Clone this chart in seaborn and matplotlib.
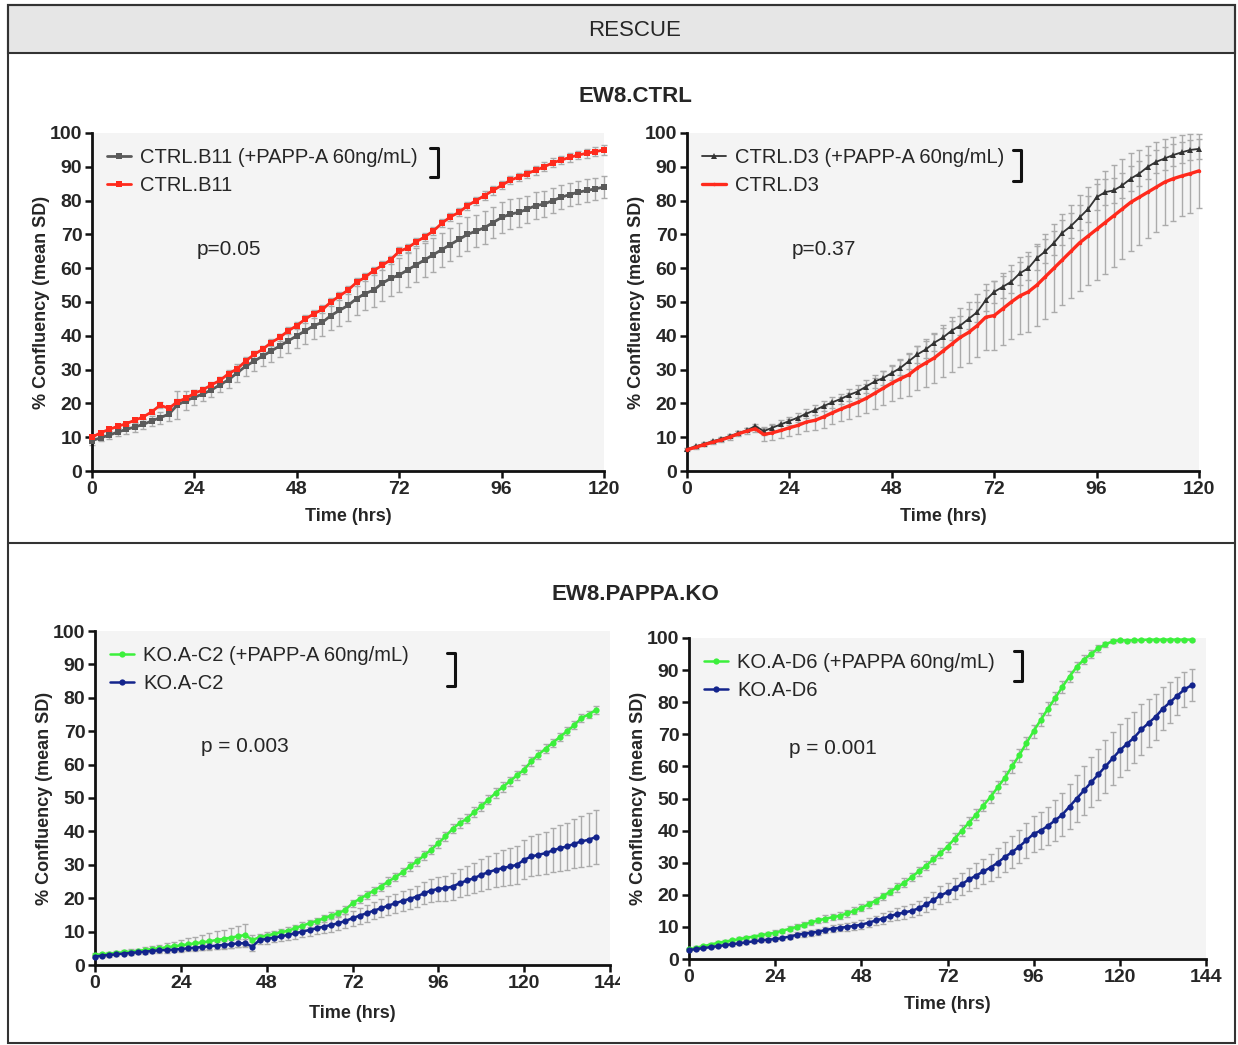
import matplotlib
matplotlib.use("Agg")
import matplotlib.pyplot as plt
import seaborn as sns
from matplotlib.patches import Rectangle
from matplotlib.lines import Line2D
from matplotlib.transforms import Bbox

# time points (hrs)
hrs_ctrl = list(range(0, 121, 2))
hrs_ko = list(range(0, 141, 2))

# ---- EW8.CTRL / B11 ----
b11_papp = [9.0, 9.8, 10.6, 11.5, 12.3, 13.0, 13.8, 14.8, 15.8, 16.8,
            19.5, 20.8, 21.8, 22.8, 24.0, 25.5, 27.0, 29.0, 31.0, 32.5,
            34.0, 35.5, 37.0, 38.5, 40.0, 41.5, 43.0, 44.0, 46.0, 47.5,
            49.0, 51.0, 52.5, 53.5, 55.5, 57.0, 58.0, 59.5, 61.0, 62.5,
            64.0, 65.5, 67.0, 68.5, 70.0, 71.0, 72.0, 73.5, 75.0, 76.0,
            76.5, 77.5, 78.5, 79.0, 80.0, 81.0, 81.8, 82.5, 83.0, 83.5,
            84.0]
b11_papp_sd = [1.2, 1.0, 1.0, 1.2, 1.3, 1.4, 1.5, 1.6, 1.8, 2.0,
               4.2, 2.8, 2.2, 2.0, 2.0, 2.2, 2.4, 2.6, 2.8, 3.0,
               3.0, 3.2, 3.4, 3.5, 3.6, 3.8, 4.0, 4.2, 4.4, 4.5,
               4.6, 4.8, 5.0, 5.0, 5.2, 5.2, 5.0, 5.0, 5.0, 5.0,
               5.0, 5.0, 5.0, 5.0, 5.0, 4.8, 4.8, 4.6, 4.5, 4.4,
               4.2, 4.0, 4.0, 3.8, 3.8, 3.6, 3.5, 3.4, 3.3, 3.2,
               3.2]
b11 = [10.0, 11.3, 12.3, 13.2, 14.0, 15.0, 16.0, 17.5, 19.5, 18.5,
       20.5, 21.5, 23.0, 24.0, 25.5, 26.8, 28.8, 30.2, 32.5, 34.5,
       36.0, 38.0, 39.5, 41.5, 43.0, 45.0, 46.5, 47.8, 50.0, 51.8,
       53.5, 55.8, 57.3, 59.3, 60.8, 62.5, 65.0, 66.0, 67.8, 69.3,
       71.0, 73.3, 75.2, 76.5, 78.5, 80.0, 81.5, 83.0, 84.5, 86.0,
       87.0, 88.0, 89.0, 90.0, 91.2, 92.0, 92.8, 93.5, 94.0, 94.5,
       95.0]
b11_sd = [0.6, 0.6, 0.6, 0.6, 0.6, 0.7, 0.7, 0.7, 0.8, 0.8,
          0.8, 0.8, 0.9, 0.9, 0.9, 1.0, 1.0, 1.0, 1.0, 1.0,
          1.0, 1.0, 1.1, 1.1, 1.1, 1.2, 1.2, 1.2, 1.2, 1.2,
          1.2, 1.2, 1.2, 1.2, 1.2, 1.2, 1.2, 1.2, 1.2, 1.2,
          1.2, 1.2, 1.2, 1.2, 1.2, 1.2, 1.2, 1.2, 1.2, 1.2,
          1.2, 1.2, 1.3, 1.3, 1.3, 1.3, 1.3, 1.3, 1.3, 1.3,
          1.4]

# ---- EW8.CTRL / D3 ----
d3_papp = [6.5, 7.3, 8.0, 8.8, 9.5, 10.3, 11.2, 12.0, 13.3, 11.8,
           12.8, 13.8, 14.8, 15.8, 17.0, 18.0, 19.2, 20.3, 21.3, 22.5,
           23.5, 25.0, 26.5, 27.5, 29.0, 30.5, 32.5, 34.5, 36.0, 38.0,
           39.5, 41.5, 43.0, 45.0, 47.0, 50.5, 53.0, 54.5, 56.0, 58.5,
           60.0, 63.0, 65.0, 67.5, 70.5, 72.5, 75.0, 77.5, 81.0, 82.5,
           83.0, 84.5, 86.5, 88.0, 90.0, 91.5, 92.5, 93.5, 94.3, 95.0,
           95.3]
d3_papp_sd = [0.4, 0.4, 0.5, 0.5, 0.5, 0.6, 0.6, 0.6, 0.7, 1.2,
              1.2, 1.3, 1.3, 1.4, 1.4, 1.5, 1.5, 1.6, 1.6, 1.7,
              1.8, 1.9, 2.0, 2.0, 2.1, 2.2, 2.3, 2.4, 2.5, 2.6,
              2.7, 2.8, 2.9, 3.0, 3.0, 3.1, 3.2, 3.3, 3.3, 3.4,
              3.5, 3.5, 3.6, 3.6, 3.7, 3.7, 3.8, 3.8, 3.9, 3.9,
              3.8, 3.8, 3.7, 3.6, 3.5, 3.4, 3.3, 3.2, 3.1, 3.0,
              3.0]
d3 = [6.3, 7.0, 7.8, 8.5, 9.2, 10.0, 11.0, 11.8, 12.5, 10.8,
      11.3, 12.0, 12.8, 13.5, 14.5, 15.0, 16.0, 17.2, 18.3, 19.3,
      20.3, 21.5, 23.0, 24.5, 26.0, 27.3, 28.5, 30.5, 32.0, 33.5,
      35.5, 37.5, 39.5, 41.0, 43.0, 45.5, 46.0, 48.0, 50.0, 51.8,
      53.0, 55.0, 57.5, 60.0, 62.5, 65.0, 67.5, 69.5, 71.5, 73.5,
      75.5, 77.5, 79.5, 81.0, 82.5, 84.0, 85.5, 86.5, 87.3, 88.0,
      88.8]
d3_sd = [0.5, 0.5, 0.5, 0.6, 0.6, 0.7, 0.7, 0.8, 0.9, 2.0,
         2.2, 2.3, 2.5, 2.6, 2.8, 3.0, 3.2, 3.4, 3.6, 3.8,
         4.0, 4.3, 4.6, 5.0, 5.4, 5.8, 6.2, 6.6, 7.0, 7.4,
         7.8, 8.2, 8.6, 9.0, 9.4, 9.8, 10.2, 10.6, 11.0, 11.4,
         11.8, 12.2, 12.6, 13.0, 13.4, 13.8, 14.2, 14.6, 15.0, 15.2,
         15.0, 14.8, 14.5, 14.0, 13.6, 13.2, 12.8, 12.4, 12.0, 11.6,
         11.0]

# ---- EW8.PAPPA.KO / C2 ----
c2_papp = [3.0, 3.2, 3.4, 3.6, 3.8, 4.0, 4.2, 4.5, 4.8, 5.0,
           5.3, 5.6, 5.9, 6.2, 6.5, 6.8, 7.1, 7.5, 7.8, 8.2,
           8.6, 9.0, 7.5, 8.3, 8.8, 9.3, 9.8, 10.3, 11.0, 11.8,
           12.5, 13.2, 14.0, 14.8, 15.5, 16.5, 18.5, 19.8, 21.0, 22.3,
           23.5, 25.0, 26.3, 27.8, 29.5, 31.0, 32.8, 34.5, 36.5, 38.5,
           40.8, 42.5, 43.8, 45.8, 47.5, 49.5, 51.5, 53.3, 55.0, 56.8,
           58.5, 61.0, 63.0, 64.8, 66.5, 68.3, 70.0, 71.8, 74.0, 75.0,
           76.3]
c2_papp_sd = [0.5, 0.5, 0.5, 0.6, 0.6, 0.7, 0.7, 0.8, 0.9, 1.0,
              1.2, 1.4, 1.6, 1.8, 2.0, 2.2, 2.4, 2.6, 2.8, 3.0,
              3.2, 3.2, 1.5, 1.0, 1.0, 1.0, 1.0, 1.0, 1.0, 1.0,
              1.0, 1.0, 1.0, 1.0, 1.0, 1.1, 1.1, 1.1, 1.1, 1.2,
              1.2, 1.2, 1.2, 1.3, 1.3, 1.3, 1.3, 1.4, 1.4, 1.4,
              1.4, 1.4, 1.4, 1.4, 1.4, 1.4, 1.4, 1.4, 1.4, 1.4,
              1.4, 1.4, 1.4, 1.3, 1.3, 1.3, 1.2, 1.2, 1.2, 1.1,
              1.1]
c2 = [2.5, 2.8, 3.0, 3.2, 3.4, 3.6, 3.8, 4.0, 4.2, 4.4,
      4.5, 4.6, 4.8, 5.0, 5.2, 5.4, 5.6, 5.8, 6.0, 6.2,
      6.5, 6.5, 5.5, 7.5, 7.8, 8.2, 8.6, 9.0, 9.5, 10.0,
      10.5, 11.0, 11.5, 12.0, 12.5, 13.2, 14.0, 14.8, 15.5, 16.3,
      17.0, 17.8, 18.5, 19.2, 19.8, 20.5, 21.5, 22.3, 22.8, 23.0,
      23.5, 24.5, 25.3, 26.0, 27.0, 27.8, 28.5, 29.0, 29.5, 30.0,
      31.5, 32.5, 33.0, 33.5, 34.3, 35.0, 35.5, 36.3, 37.0, 37.5,
      38.3]
c2_sd = [0.5, 0.5, 0.5, 0.5, 0.5, 0.6, 0.6, 0.6, 0.7, 0.7,
         0.8, 0.8, 0.9, 0.9, 1.0, 1.0, 1.0, 1.1, 1.1, 1.2,
         1.2, 1.2, 1.3, 1.3, 1.4, 1.4, 1.5, 1.5, 1.6, 1.6,
         1.7, 1.8, 1.9, 2.0, 2.1, 2.2, 2.3, 2.4, 2.5, 2.6,
         2.7, 2.8, 2.9, 3.0, 3.1, 3.2, 3.3, 3.4, 3.5, 3.7,
         3.9, 4.1, 4.3, 4.5, 4.7, 4.9, 5.1, 5.3, 5.5, 5.6,
         5.8, 6.0, 6.2, 6.4, 6.6, 6.8, 7.0, 7.3, 7.6, 7.9,
         8.2]

# ---- EW8.PAPPA.KO / D6 ----
d6_papp = [3.0, 3.5, 4.0, 4.5, 5.0, 5.4, 5.8, 6.2, 6.6, 7.0,
           7.4, 7.8, 8.2, 8.8, 9.4, 10.0, 10.7, 11.4, 12.0, 12.6,
           13.0, 13.5, 14.2, 15.0, 16.0, 17.0, 18.2, 19.5, 21.0, 22.3,
           23.8, 25.5, 27.3, 29.0, 31.0, 33.0, 35.0, 37.5, 40.0, 42.5,
           45.0, 47.8, 50.5, 53.5, 56.5, 60.0, 63.5, 67.3, 71.0, 74.5,
           78.0, 81.3, 84.8, 88.0, 91.0, 93.3, 95.0, 96.8, 98.0, 99.0,
           99.3, 99.2, 99.3, 99.4, 99.5, 99.5, 99.5, 99.5, 99.5, 99.5,
           99.5]
d6_papp_sd = [0.4, 0.4, 0.4, 0.4, 0.5, 0.5, 0.5, 0.5, 0.6, 0.6,
              0.6, 0.7, 0.7, 0.7, 0.8, 0.8, 0.8, 0.9, 0.9, 1.0,
              1.0, 1.0, 1.0, 1.1, 1.1, 1.1, 1.2, 1.2, 1.2, 1.3,
              1.3, 1.3, 1.4, 1.4, 1.5, 1.5, 1.6, 1.6, 1.7, 1.7,
              1.8, 1.8, 1.9, 1.9, 2.0, 2.0, 2.0, 2.0, 2.0, 2.0,
              2.0, 1.9, 1.8, 1.7, 1.6, 1.5, 1.3, 1.1, 0.9, 0.7,
              0.5, 0.4, 0.4, 0.3, 0.3, 0.3, 0.3, 0.3, 0.3, 0.3,
              0.3]
d6 = [2.8, 3.1, 3.4, 3.7, 4.0, 4.3, 4.6, 4.9, 5.2, 5.5,
      5.8, 6.0, 6.2, 6.5, 7.0, 7.5, 7.9, 8.2, 8.5, 9.0,
      9.5, 9.7, 10.0, 10.3, 10.7, 11.3, 12.0, 12.6, 13.4, 14.0,
      14.5, 15.0, 15.8, 17.0, 18.3, 19.8, 20.8, 22.0, 23.3, 24.8,
      26.0, 27.3, 28.5, 30.0, 31.8, 33.3, 35.0, 37.0, 39.0, 40.0,
      41.5, 43.2, 45.0, 47.5, 50.0, 52.5, 55.0, 57.5, 60.0, 62.5,
      65.0, 67.0, 69.0, 71.5, 73.5, 75.5, 78.0, 80.0, 82.0, 84.0,
      85.3]
d6_sd = [0.3, 0.3, 0.3, 0.4, 0.4, 0.4, 0.5, 0.5, 0.5, 0.6,
         0.6, 0.6, 0.7, 0.7, 0.8, 0.8, 0.9, 0.9, 1.0, 1.0,
         1.1, 1.1, 1.2, 1.2, 1.3, 1.4, 1.5, 1.6, 1.7, 1.8,
         1.9, 2.0, 2.2, 2.4, 2.6, 2.8, 3.0, 3.2, 3.4, 3.6,
         3.8, 4.0, 4.2, 4.5, 4.8, 5.0, 5.2, 5.4, 5.6, 5.8,
         6.0, 6.3, 6.6, 6.9, 7.2, 7.5, 7.8, 8.0, 8.2, 8.3,
         8.3, 8.2, 8.0, 7.8, 7.5, 7.2, 6.8, 6.4, 6.0, 5.5,
         5.0]

sns.set_style("ticks")
plt.rcParams['font.family'] = ['Liberation Sans', 'DejaVu Sans']

W, H = 1238, 1045
fig = plt.figure(figsize=(W / 100, H / 100), dpi=100)

ERR = '#ababab'


def draw_panel(rect, hours, series, xmax, ptext, bracket, xlab_y, ylab_x):
    ax = fig.add_axes(rect)
    ax.set_facecolor('#f4f4f4')
    for lab, y, sd, col, mk, ms, lw in series:
        ax.errorbar(hours, y, yerr=sd, fmt='none', ecolor=ERR, elinewidth=1.0,
                    capsize=2.5, capthick=1.0, zorder=2, clip_on=False)
    for lab, y, sd, col, mk, ms, lw in series:
        sns.lineplot(x=hours, y=y, ax=ax, color=col, marker=mk, markersize=ms,
                     markeredgewidth=0, linewidth=lw, label=lab, zorder=3,
                     clip_on=False, errorbar=None)
    ax.set_xlim(0, xmax)
    ax.set_ylim(0, 100)
    ax.set_xticks(range(0, xmax + 1, 24))
    ax.set_yticks(range(0, 101, 10))
    sns.despine(ax=ax)
    for s in ('left', 'bottom'):
        ax.spines[s].set_linewidth(2.0)
        ax.spines[s].set_color('#111111')
    ax.tick_params(direction='out', length=5, width=1.8, color='#111111',
                   labelsize=14, pad=2)
    for t in ax.get_xticklabels() + ax.get_yticklabels():
        t.set_fontweight('bold')
    ax.set_xlabel('Time (hrs)', fontsize=13, fontweight='bold')
    ax.set_ylabel('% Confluency (mean SD)', fontsize=13, fontweight='bold')
    ax.xaxis.set_label_coords(0.5, xlab_y)
    ax.yaxis.set_label_coords(ylab_x, 0.5)
    ax.legend(loc='upper left', bbox_to_anchor=(0.0, 1.0), frameon=False,
              fontsize=14.5, handlelength=1.2, handletextpad=0.45,
              labelspacing=0.45, borderaxespad=0.5, borderpad=0.25)
    ax.text(ptext[0], ptext[1], ptext[2], fontsize=15, ha='center', va='center')
    bx, by0, by1 = bracket
    ax.add_line(Line2D([bx - 0.016, bx, bx, bx - 0.016], [by0, by0, by1, by1],
                       transform=ax.transAxes, color='#111111', lw=2.2,
                       clip_on=False))
    return ax


ax1 = draw_panel([92 / W, 1 - 471 / H, 512 / W, 338 / H], hrs_ctrl,
                 [('CTRL.B11 (+PAPP-A 60ng/mL)', b11_papp, b11_papp_sd, '#5a5a5a', 's', 5, 2.0),
                  ('CTRL.B11', b11, b11_sd, '#ff2a1c', 's', 5, 2.0)],
                 120, (32, 65.5, 'p=0.05'), (0.676, 0.956, 0.870), -0.11, -0.082)
ax2 = draw_panel([687 / W, 1 - 471 / H, 512 / W, 338 / H], hrs_ctrl,
                 [('CTRL.D3 (+PAPP-A 60ng/mL)', d3_papp, d3_papp_sd, '#333333', '^', 4, 1.3),
                  ('CTRL.D3', d3, d3_sd, '#ff2a1c', 'o', 2.5, 2.4)],
                 120, (32, 65.5, 'p=0.37'), (0.652, 0.950, 0.858), -0.11, -0.082)
ax3 = draw_panel([95 / W, 1 - 965 / H, 515 / W, 334 / H], hrs_ko,
                 [('KO.A-C2 (+PAPP-A 60ng/mL)', c2_papp, c2_papp_sd, '#3cf03c', 'o', 4.5, 1.8),
                  ('KO.A-C2', c2, c2_sd, '#13248c', 'o', 4.5, 1.8)],
                 144, (42, 65.5, 'p = 0.003'), (0.699, 0.934, 0.835), -0.12, -0.082)
ax4 = draw_panel([689 / W, 1 - 959 / H, 517 / W, 321 / H], hrs_ko,
                 [('KO.A-D6 (+PAPPA 60ng/mL)', d6_papp, d6_papp_sd, '#3cf03c', 'o', 4.5, 1.8),
                  ('KO.A-D6', d6, d6_sd, '#13248c', 'o', 4.5, 1.8)],
                 144, (40, 65.5, 'p = 0.001'), (0.644, 0.960, 0.866), -0.115, -0.082)

# the "144" of the lower left panel is cut by the crop of the original image
lab144 = ax3.get_xticklabels()[-1]
lab144.set_clip_box(Bbox.from_extents(0, 0, 620, H))
lab144.set_clip_on(True)

# frame, header band and separators
fig.add_artist(Rectangle((8 / W, 1 - 53 / H), 1227 / W, 48 / H,
                         transform=fig.transFigure, facecolor='#e6e6e6',
                         edgecolor='#333333', lw=1.5, zorder=0))
fig.add_artist(Rectangle((8 / W, 1 - 1043 / H), 1227 / W, 1038 / H,
                         transform=fig.transFigure, fill=False,
                         edgecolor='#333333', lw=1.5))
fig.add_artist(Line2D([8 / W, 1235 / W], [1 - 543 / H, 1 - 543 / H],
                      transform=fig.transFigure, color='#333333', lw=1.5))
fig.text(635 / W, 1 - 30 / H, 'RESCUE', fontsize=16, ha='center', va='center')
fig.text(635 / W, 1 - 97 / H, 'EW8.CTRL', fontsize=16, fontweight='bold',
         ha='center', va='center')
fig.text(635 / W, 1 - 594 / H, 'EW8.PAPPA.KO', fontsize=16, fontweight='bold',
         ha='center', va='center')

fig.savefig('out.png', dpi=100)
